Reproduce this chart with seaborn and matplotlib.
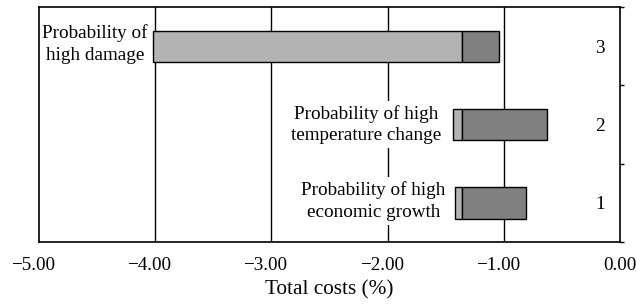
import numpy as np
import matplotlib
matplotlib.use("Agg")
import matplotlib.pyplot as plt
import matplotlib.transforms as mtransforms
import seaborn as sns

# scenario rows (bottom to top)
scenarios = [1, 2, 3]
scenario_labels = ["1", "2", "3"]
low_end = [-1.42, -1.44, -4.02]      # start of light segment
mid_point = [-1.36, -1.36, -1.36]    # light -> dark switch
high_end = [-0.81, -0.63, -1.04]     # end of dark segment
notes = ["Probability of high\neconomic growth",
         "Probability of high\ntemperature change",
         "Probability of\nhigh damage"]

xticks = [-5, -4, -3, -2, -1, 0]
xticklabels = ["\u22125.00", "\u22124.00", "\u22123.00", "\u22122.00", "\u22121.00", "0.00"]

sns.set_style("white")
plt.rcParams['font.family'] = ['Liberation Serif', 'DejaVu Serif']
plt.rcParams['text.color'] = 'black'
plt.rcParams['xtick.color'] = 'black'
plt.rcParams['ytick.color'] = 'black'
plt.rcParams['axes.labelcolor'] = 'black'
fs = 13.8

fig = plt.figure(figsize=(6.36, 3.06), dpi=100)
ax = fig.add_axes([39 / 636, 1 - 242 / 306, (620 - 39) / 636, (242 - 7) / 306])

y = np.array(scenarios)
lo = np.array(low_end)
mid = np.array(mid_point)
hi = np.array(high_end)

for xv in xticks[1:-1]:
    ax.axvline(xv, color="black", lw=1.0, zorder=1)

ax.barh(y, mid - lo, left=lo, height=0.4, color="#b3b3b3", edgecolor="black", lw=1.0, zorder=3)
ax.barh(y, hi - mid, left=mid, height=0.4, color="#808080", edgecolor="black", lw=1.0, zorder=3)

# annotations beside the bars (white box hides grid lines)
box = dict(facecolor="white", edgecolor="none", pad=3)
ax.text(-4.52, 3.03, notes[2], ha="center", va="center", multialignment="center",
        linespacing=1.35, fontsize=fs, bbox=box, zorder=2)
ax.text(-1.54, 2.0, notes[1], ha="right", va="center", multialignment="center",
        linespacing=1.35, fontsize=fs, bbox=box, zorder=2)
ax.text(-1.50, 1.02, notes[0], ha="right", va="center", multialignment="center",
        linespacing=1.35, fontsize=fs, bbox=box, zorder=2)

ax.set_xlim(-5, 0)
ax.set_ylim(0.5, 3.5)
ax.set_xticks(xticks)
ax.set_xticklabels(xticklabels)
ax.tick_params(axis="x", direction="out", length=4, width=1, pad=7, labelsize=fs)
# number part centred on the tick, minus sign hanging to the left
shift = mtransforms.ScaledTranslation(-0.06, 0, fig.dpi_scale_trans)
for v, lab in zip(xticks, ax.get_xticklabels()):
    if v < 0:
        lab.set_transform(lab.get_transform() + shift)

ax.yaxis.tick_right()
ax.set_yticks(y)
ax.set_yticklabels(scenario_labels)
ax.set_yticks([0.5, 1.5, 2.5, 3.5], minor=True)
ax.tick_params(axis="y", which="major", length=0, pad=-14.5, labelsize=fs)
ax.tick_params(axis="y", which="minor", direction="out", length=3, width=1, right=True, left=False)
for lab in ax.get_yticklabels():
    lab.set_horizontalalignment("center")

for s in ax.spines.values():
    s.set_color("black")
    s.set_linewidth(1.2)

ax.set_xlabel("Total costs (%)", fontsize=15.3, labelpad=4)

fig.savefig("out.png", dpi=100)
